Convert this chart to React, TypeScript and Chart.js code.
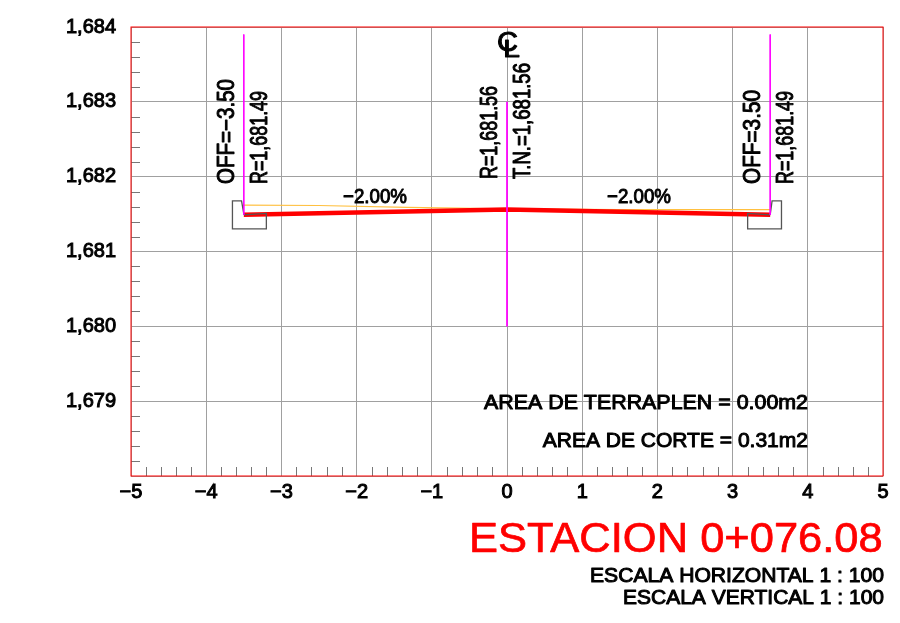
import React, { useEffect, useRef } from "react";
import { Chart, registerables } from "chart.js";

Chart.register(...registerables);

const roadSurface = [
  { x: -3.5, y: 1681.49 },
  { x: 0, y: 1681.56 },
  { x: 3.5, y: 1681.49 },
];
const terrain = [
  { x: -3.5, y: 1681.62 },
  { x: -2.5, y: 1681.615 },
  { x: -1.33, y: 1681.59 },
  { x: 0, y: 1681.57 },
  { x: 1.5, y: 1681.56 },
  { x: 3.5, y: 1681.56 },
];
const leftCurb = [
  { x: -3.498, y: 1681.49 },
  { x: -3.53, y: 1681.676 },
  { x: -3.651, y: 1681.676 },
  { x: -3.651, y: 1681.303 },
  { x: -3.2, y: 1681.303 },
  { x: -3.2, y: 1681.51 },
  { x: -3.498, y: 1681.49 },
];
const rightCurb = [
  { x: 3.5, y: 1681.49 },
  { x: 3.525, y: 1681.676 },
  { x: 3.65, y: 1681.676 },
  { x: 3.65, y: 1681.303 },
  { x: 3.2, y: 1681.303 },
  { x: 3.2, y: 1681.51 },
  { x: 3.5, y: 1681.49 },
];
const leftOffset = [
  { x: -3.5, y: 1683.9 },
  { x: -3.5, y: 1681.49 },
];
const centerOffset = [
  { x: 0, y: 1683.0 },
  { x: 0, y: 1680.0 },
];
const rightOffset = [
  { x: 3.5, y: 1683.9 },
  { x: 3.5, y: 1681.49 },
];
const yLabels: Record<number, string> = {
  1684: "1,684",
  1683: "1,683",
  1682: "1,682",
  1681: "1,681",
  1680: "1,680",
  1679: "1,679",
};
const titleText = "ESTACION 0+076.08";
const scaleH = "ESCALA HORIZONTAL 1 : 100";
const scaleV = "ESCALA VERTICAL 1 : 100";
const areaFill = "AREA DE TERRAPLEN = 0.00m2";
const areaCut = "AREA DE CORTE = 0.31m2";
const minorX = [-4.8, -4.6, -4.4, -4.2, -3.8, -3.6, -3.4, -3.2, -2.8, -2.6, -2.4, -2.2, -1.8, -1.6, -1.4, -1.2, -0.8, -0.6, -0.4, -0.2, 0.2, 0.4, 0.6, 0.8, 1.2, 1.4, 1.6, 1.8, 2.2, 2.4, 2.6, 2.8, 3.2, 3.4, 3.6, 3.8, 4.2, 4.4, 4.6, 4.8];
const minorY = [1678.2, 1678.4, 1678.6, 1678.8, 1679.2, 1679.4, 1679.6, 1679.8, 1680.2, 1680.4, 1680.6, 1680.8, 1681.2, 1681.4, 1681.6, 1681.8, 1682.2, 1682.4, 1682.6, 1682.8, 1683.2, 1683.4, 1683.6, 1683.8];

const FONT = '"Liberation Sans", Arial, sans-serif';

// Draws text fitted between two pixel positions along its direction.
function fit(
  ctx: CanvasRenderingContext2D,
  text: string,
  x: number,
  y: number,
  length: number,
  size: number,
  rotated = false,
  color = "#000",
  stroke = 1.0
) {
  ctx.save();
  ctx.font = `${size}px ${FONT}`;
  ctx.textAlign = "left";
  ctx.textBaseline = "alphabetic";
  ctx.fillStyle = color;
  ctx.strokeStyle = color;
  ctx.lineWidth = stroke;
  ctx.lineJoin = "round";
  ctx.translate(x, y);
  if (rotated) ctx.rotate(-Math.PI / 2);
  const w = ctx.measureText(text).width;
  ctx.scale(length / w, 1);
  ctx.fillText(text, 0, 0);
  ctx.strokeText(text, 0, 0);
  ctx.restore();
}

const decorations = {
  id: "decorations",
  beforeDatasetsDraw(chart: any) {
    const { ctx, chartArea: a, scales } = chart;
    ctx.save();
    ctx.strokeStyle = "#777";
    ctx.lineWidth = 1;
    ctx.beginPath();
    for (const v of minorX) {
      const px = Math.round(scales.x.getPixelForValue(v)) + 0.5;
      ctx.moveTo(px, a.bottom);
      ctx.lineTo(px, a.bottom - 9);
    }
    for (const v of minorY) {
      const py = Math.round(scales.y.getPixelForValue(v)) + 0.5;
      ctx.moveTo(a.left, py);
      ctx.lineTo(a.left + 9, py);
    }
    ctx.stroke();
    ctx.strokeStyle = "#ff0000";
    ctx.strokeRect(a.left, a.top, a.right - a.left, a.bottom - a.top);
    ctx.restore();
  },
  afterDatasetsDraw(chart: any) {
    const { ctx } = chart;
    fit(ctx, "OFF=\u22123.50", 233.5, 184, 105, 23, true);
    fit(ctx, "R=1,681.49", 266.5, 184, 93, 23, true);
    fit(ctx, "R=1,681.56", 496.7, 179, 93, 23, true);
    fit(ctx, "T.N.=1,681.56", 530, 179, 116, 23, true);
    fit(ctx, "OFF=3.50", 760, 184, 94, 23, true);
    fit(ctx, "R=1,681.49", 793, 184, 93, 23, true);
    fit(ctx, "\u22122.00%", 343, 203, 64, 21);
    fit(ctx, "\u22122.00%", 607, 203, 64, 21);
    fit(ctx, "C", 497, 51, 21, 27, false, "#000", 1.0);
    fit(ctx, "L", 503, 57, 17, 23, false, "#000", 0.8);
    fit(ctx, areaFill, 484, 409, 324, 21);
    fit(ctx, areaCut, 542.7, 446.7, 265.3, 21);
    fit(ctx, titleText, 469, 551.7, 413.7, 42, false, "#ff0000", 0.7);
    fit(ctx, scaleH, 590, 581.7, 294, 20);
    fit(ctx, scaleV, 623, 604, 261, 20);
  },
};

export default function App() {
  const ref = useRef<HTMLCanvasElement>(null);
  useEffect(() => {
    const line = (data: any[], color: string, width: number) => ({
      data,
      borderColor: color,
      borderWidth: width,
      showLine: true,
      pointRadius: 0,
      tension: 0,
      fill: false,
    });
    const chart = new Chart(ref.current!, {
      type: "scatter",
      data: {
        datasets: [
          line(terrain, "#ffc040", 1.2),
          line(roadSurface, "#ff0000", 4.5),
          line(leftCurb, "#555555", 1.3),
          line(rightCurb, "#555555", 1.3),
          line(leftOffset, "#ff00ff", 1),
          line(centerOffset, "#ff00ff", 1),
          line(rightOffset, "#ff00ff", 1),
        ].reverse() as any,
      },
      options: {
        animation: false,
        responsive: false,
        devicePixelRatio: 1,
        layout: { padding: { top: 24.5, right: 17, bottom: 0, left: 0 } },
        plugins: { legend: { display: false }, tooltip: { enabled: false } },
        scales: {
          x: {
            type: "linear",
            min: -5,
            max: 5,
            afterFit: (s: any) => {
              s.height = 147;
            },
            grid: { color: "#a0a0a0", lineWidth: 1, drawTicks: false },
            border: { display: false },
            ticks: {
              stepSize: 1,
              padding: 4,
              maxRotation: 0,
              color: "#000",
              font: { family: FONT, size: 20 },
              textStrokeColor: "#000",
              textStrokeWidth: 1,
              callback: (v: any) => String(v).replace("-", "\u2212"),
            },
          },
          y: {
            type: "linear",
            min: 1678,
            max: 1684,
            afterFit: (s: any) => {
              s.width = 131;
            },
            grid: { color: "#a0a0a0", lineWidth: 1, drawTicks: false },
            border: { display: false },
            ticks: {
              stepSize: 1,
              padding: 15,
              color: "#000",
              font: { family: FONT, size: 20 },
              textStrokeColor: "#000",
              textStrokeWidth: 1,
              callback: (v: any) => yLabels[v as number] ?? "",
            },
          },
        } as any,
      },
      plugins: [decorations],
    } as any);
    return () => chart.destroy();
  }, []);
  return (
    <canvas
      ref={ref}
      width={900}
      height={623}
      style={{ position: "fixed", left: 0, top: 0, display: "block", width: 900, height: 623, background: "#fff" }}
    />
  );
}
